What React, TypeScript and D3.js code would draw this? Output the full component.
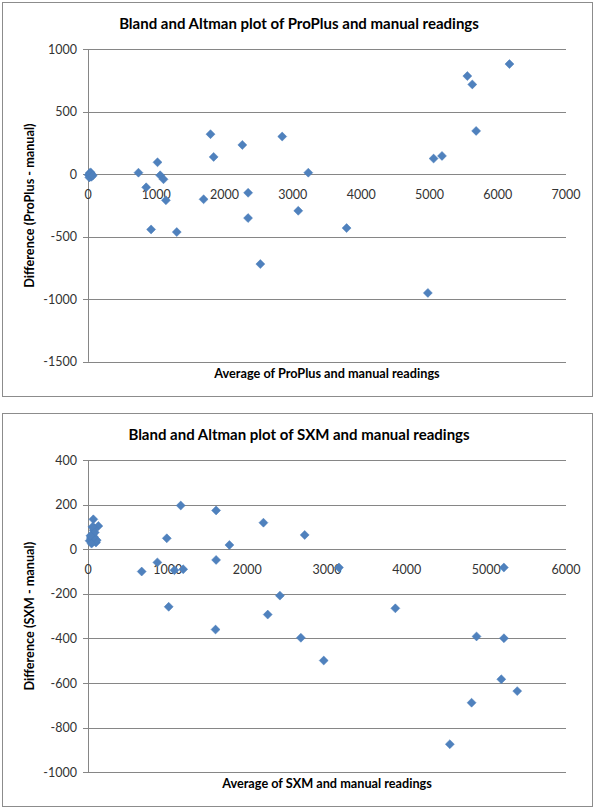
import React from 'react';
import * as d3 from 'd3';

// ---- Data: ProPlus vs manual ----
const proplusAvg = [10, 25, 35, 45, 50, 20, 40, 30, 70,
  739, 852, 924, 1018, 1057, 1106, 1141, 1300, 1693, 1794, 1840, 2260, 2345, 2344, 2524,
  2844, 3079, 3226, 3787, 4977, 5061, 5184, 5555, 5628, 5684, 6172];
const proplusDiff = [-5, 10, -15, 5, -20, -25, 15, 0, -10,
  13, -104, -441, 96, -8, -40, -208, -462, -200, 321, 139, 235, -148, -350, -718,
  302, -292, 13, -430, -949, 126, 147, 786, 719, 347, 882];
const proplusXTicks = [0, 1000, 2000, 3000, 4000, 5000, 6000, 7000];
const proplusYTicks = [1000, 500, 0, -500, -1000, -1500];

// ---- Data: SXM vs manual ----
const sxmAvg = [67, 130, 20, 35, 50, 60, 70, 80, 90, 100, 45, 110, 75, 55, 85, 30,
  674, 871, 989, 1013, 1085, 1164, 1195, 1601, 1608, 1608, 1775, 2202, 2256, 2409,
  2672, 2720, 2959, 3150, 3858, 4542, 4815, 4877, 5188, 5220, 5221, 5388];
const sxmDiff = [134, 104, 38, 50, 30, 65, 85, 95, 45, 30, 25, 40, 55, 100, 75, 60,
  -100, -59, 49, -258, -94, 196, -90, -360, 174, -48, 19, 119, -293, -208,
  -397, 64, -499, -82, -265, -874, -688, -391, -583, -82, -399, -636];
const sxmXTicks = [0, 1000, 2000, 3000, 4000, 5000, 6000];
const sxmYTicks = [400, 200, 0, -200, -400, -600, -800, -1000];

const FONT = 'Lato, "Open Sans", sans-serif';
const GRID = '#868686';

type ChartProps = {
  frameTop: number; frameBottom: number; plotTop: number; plotBottom: number;
  title: string; xTitle: string; yTitle: string;
  avg: number[]; diff: number[]; xTicks: number[]; yTicks: number[];
};

function Chart(p: ChartProps) {
  const left = 88, right = 566;
  const xs = d3.scaleLinear().domain([0, d3.max(p.xTicks)!]).range([left, right]);
  const ys = d3.scaleLinear().domain([d3.min(p.yTicks)!, d3.max(p.yTicks)!]).range([p.plotBottom, p.plotTop]);
  const y0 = ys(0);
  const diamond = d3.symbol().type(d3.symbolSquare).size(40)()!;
  const midY = (p.plotTop + p.plotBottom) / 2;
  return (
    <g>
      <rect x={2.5} y={p.frameTop + 0.5} width={590} height={p.frameBottom - p.frameTop}
        fill="#fff" stroke="#8c8c8c" strokeWidth={1} />
      <text x={299} y={p.frameTop + 27} textAnchor="middle" fontFamily={FONT}
        fontWeight="bold" fontSize={15} fill="#000">{p.title}</text>
      {p.yTicks.map(t => (
        <g key={t}>
          <line x1={left - 5} x2={right} y1={Math.round(ys(t)) + 0.5} y2={Math.round(ys(t)) + 0.5}
            stroke={GRID} strokeWidth={1} />
          <text x={77} y={ys(t) + 4.5} textAnchor="end" fontFamily={FONT} fontSize={12.5}
            fill="#333">{t}</text>
        </g>
      ))}
      <line x1={left + 0.5} x2={left + 0.5} y1={p.plotTop} y2={p.plotBottom} stroke={GRID} strokeWidth={1} />
      {p.xTicks.map(t => (
        <text key={t} x={xs(t)} y={y0 + 25} textAnchor="middle" fontFamily={FONT} fontSize={12.5}
          fill="#333">{t}</text>
      ))}
      {p.avg.map((a, i) => (
        <path key={i} d={diamond}
          transform={`translate(${xs(a)},${ys(p.diff[i])}) rotate(45)`}
          fill="#4F81BD" stroke="#4A7EBB" strokeWidth={0.5} />
      ))}
      <text x={(left + right) / 2} y={p.plotBottom + 16} textAnchor="middle" fontFamily={FONT}
        fontWeight="bold" fontSize={12.7} fill="#000">{p.xTitle}</text>
      <text transform={`translate(34,${midY}) rotate(-90)`} textAnchor="middle" fontFamily={FONT}
        fontWeight="bold" fontSize={12.7} fill="#000">{p.yTitle}</text>
    </g>
  );
}

export default function App() {
  return (
    <svg width={600} height={811} style={{ position: 'absolute', left: 0, top: 0, background: '#fff' }}>
      <rect x={0} y={0} width={600} height={811} fill="#fff" />
      <Chart frameTop={2} frameBottom={396} plotTop={49.3} plotBottom={361.8}
        title="Bland and Altman plot of ProPlus and manual readings"
        xTitle="Average of ProPlus and manual readings"
        yTitle="Difference (ProPlus - manual)"
        avg={proplusAvg} diff={proplusDiff} xTicks={proplusXTicks} yTicks={proplusYTicks} />
      <Chart frameTop={413} frameBottom={806} plotTop={460} plotBottom={772.3}
        title="Bland and Altman plot of SXM and manual readings"
        xTitle="Average of SXM and manual readings"
        yTitle="Difference (SXM - manual)"
        avg={sxmAvg} diff={sxmDiff} xTicks={sxmXTicks} yTicks={sxmYTicks} />
    </svg>
  );
}
